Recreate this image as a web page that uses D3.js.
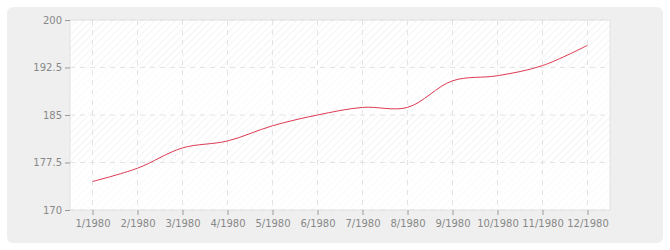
<!DOCTYPE html>
<html>
<head>
<meta charset="utf-8">
<script src="https://cdn.jsdelivr.net/npm/d3@7"></script>
<style>
  body { margin:0; background:#fff; }
  text { font-family:"DejaVu Sans", sans-serif; font-size:10px; fill:#888; }
</style>
</head>
<body>
<svg></svg>
<script>
var months = ["1/1980","2/1980","3/1980","4/1980","5/1980","6/1980",
              "7/1980","8/1980","9/1980","10/1980","11/1980","12/1980"];
var values = [174.5, 176.6, 179.8, 180.9, 183.3, 185.0,
              186.2, 186.2, 190.4, 191.2, 192.8, 196.0];
var yTicks = [170, 177.5, 185, 192.5, 200];

var screen = { width:670, height:250 };
var margins = { top:20, bottom:40, left:70, right:60 };
var width = screen.width - margins.left - margins.right;
var height = screen.height - margins.top - margins.bottom;

var svg = d3.select("svg")
  .attr("width", screen.width)
  .attr("height", screen.height);

// outer grey panel
svg.append("rect")
  .attr("x", 7).attr("y", 7)
  .attr("width", 656).attr("height", 236)
  .attr("rx", 6)
  .attr("fill", "#efefef");

// hatch pattern
var defs = svg.append("defs");
var pat = defs.append("pattern")
  .attr("id", "hatch")
  .attr("width", 5).attr("height", 5)
  .attr("patternUnits", "userSpaceOnUse")
  .attr("patternTransform", "rotate(45)");
pat.append("rect").attr("width", 5).attr("height", 5).attr("fill", "#fff");
pat.append("line")
  .attr("x1", 0).attr("y1", 0).attr("x2", 0).attr("y2", 5)
  .attr("stroke", "#eeeeee").attr("stroke-width", 1.2);

var xScale = d3.scalePoint()
  .domain(months)
  .range([0, width])
  .padding(0.5);
var yScale = d3.scaleLinear()
  .domain([170, 200])
  .range([height, 0]);

var plotLand = svg.append("g")
  .attr("transform", "translate(" + margins.left + "," + margins.top + ")");

plotLand.append("rect")
  .attr("width", width).attr("height", height)
  .attr("fill", "url(#hatch)");

// lighter alternate bands
var bands = d3.pairs(yTicks).filter(function(d, i) { return i % 2 == 0; });
plotLand.selectAll(".band")
  .data(bands)
  .enter()
  .append("rect")
  .attr("x", 0)
  .attr("y", function(d) { return yScale(d[1]); })
  .attr("width", width)
  .attr("height", function(d) { return yScale(d[0]) - yScale(d[1]); })
  .attr("fill", "#fff")
  .attr("opacity", 0.55);

// grid
plotLand.selectAll(".hgrid")
  .data(yTicks)
  .enter()
  .append("line")
  .attr("x1", 0).attr("x2", width)
  .attr("y1", function(d) { return yScale(d); })
  .attr("y2", function(d) { return yScale(d); })
  .attr("stroke", "#e3e3e3")
  .attr("stroke-dasharray", "5,5");
plotLand.selectAll(".vgrid")
  .data(months)
  .enter()
  .append("line")
  .attr("x1", function(d) { return xScale(d); })
  .attr("x2", function(d) { return xScale(d); })
  .attr("y1", 0).attr("y2", height)
  .attr("stroke", "#e3e3e3")
  .attr("stroke-dasharray", "5,5");

plotLand.append("rect")
  .attr("width", width).attr("height", height)
  .attr("fill", "none")
  .attr("stroke", "#e2e2e2");

// line
var drawLine = d3.line()
  .x(function(d, i) { return xScale(months[i]); })
  .y(function(d) { return yScale(d); })
  .curve(d3.curveCatmullRom);

plotLand.append("path")
  .datum(values)
  .attr("d", drawLine)
  .attr("fill", "none")
  .attr("stroke", "#dd3a52")
  .attr("stroke-width", 1);

// axes
var xAxis = d3.axisBottom(xScale).tickSize(5).tickPadding(5);
var yAxis = d3.axisLeft(yScale).tickValues(yTicks).tickSize(5).tickPadding(3)
  .tickFormat(function(d) { return d; });

var gx = svg.append("g")
  .attr("transform", "translate(" + margins.left + "," + (margins.top + height) + ")")
  .call(xAxis);
var gy = svg.append("g")
  .attr("transform", "translate(" + margins.left + "," + margins.top + ")")
  .call(yAxis);

[gx, gy].forEach(function(g) {
  g.select(".domain").remove();
  g.selectAll(".tick line").attr("stroke", "#999");
  g.selectAll(".tick text").attr("fill", "#888").style("font-size", "10px")
    .style("font-family", "DejaVu Sans, sans-serif");
});
</script>
</body>
</html>
